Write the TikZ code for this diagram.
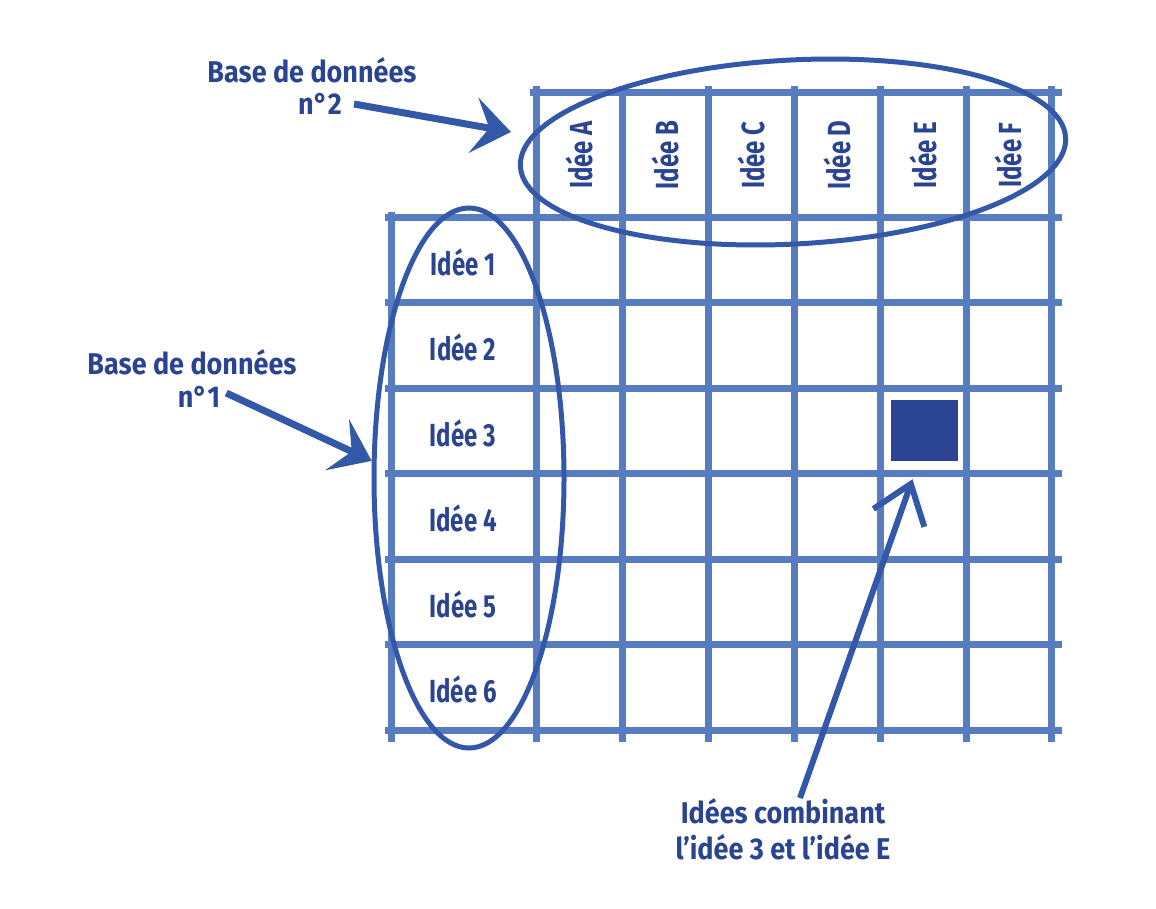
\documentclass[tikz,border=0pt]{standalone}
\usepackage{fontspec}
\newfontfamily\labelfont{Fira Sans}[FakeStretch=0.75]
\newfontfamily\notefont{Fira Sans}[FakeStretch=0.9]
\usetikzlibrary{shapes.geometric,arrows.meta}
\definecolor{inkBlue}{RGB}{42,68,145}
\definecolor{penBlue}{RGB}{52,88,168}
\definecolor{gridBlue}{RGB}{88,124,192}

\begin{document}
\begin{tikzpicture}
[x=1pt,y=-1pt,
  gridDecorate/.style={gridBlue,line width=7pt},%
  labelDecorate/.style={text=inkBlue,inner sep=0pt,font=\labelfont\fontsize{32}{34}\selectfont\bfseries},%
  noteDecorate/.style={text=inkBlue,inner sep=0pt,align=center,font=\notefont\fontsize{30}{36}\selectfont\bfseries},%
  ellipseDecorate/.style={shape=ellipse,draw=penBlue,line width=5pt,inner sep=0pt},%
  arrowDecorate/.style={-{Stealth[length=38pt,width=56pt,inset=16pt]},penBlue,line width=7pt},%
  thinArrowDecorate/.style={-{Straight Barb[length=36pt,width=54pt]},penBlue,line width=6pt}]
\useasboundingbox (0,0) rectangle (1156,908);
%% grid lines
\draw[gridDecorate] (530,92) -- (1062,92);
\foreach \y in {217,302,388,473,559,644,730}
{
  \draw[gridDecorate] (385,\y) -- (1062,\y);
}
\draw[gridDecorate] (391,212) -- (391,742);
\foreach \x in {536,622,708,794,880,966,1051}
{
  \draw[gridDecorate] (\x,86) -- (\x,742);
}
%% row and column labels
\foreach \nodename/\y in {1/262, 2/347, 3/433, 4/518, 5/604, 6/689}
{
  \node (r\nodename) at (463,\y) [labelDecorate] {Idée \nodename};
}
\foreach \nodename/\x in {A/579, B/665, C/751, D/837, E/923, F/1008}
{
  \node (c\nodename) at (\x,155) [labelDecorate,rotate=90] {Idée \nodename};
}
%% the two databases and the chosen cell
\node (db1) at (469,478) [ellipseDecorate,minimum width=190pt,minimum height=540pt] {};
\node (db2) at (793,152) [ellipseDecorate,minimum width=546pt,minimum height=184pt,rotate=3] {};
\node (hit) at (924.5,430.5) [fill=inkBlue,minimum width=67pt,minimum height=61pt] {};
%% notes
\node (title2) at (312,70) [noteDecorate] {Base de données};
\node (num2) at (320,104) [noteDecorate] {n°2};
\node (title1) at (192,362) [noteDecorate] {Base de données};
\node (num1) at (199,397) [noteDecorate] {n°1};
\node (note) at (783,829) [noteDecorate] {Idées combinant\\l’idée 3 et l’idée E};
\coordinate (tip2) at (511,132);
%% arrows
\draw[arrowDecorate] ([xshift=12pt]num2.east) -- (tip2);
\draw[arrowDecorate] ([xshift=6pt,yshift=4pt]num1.east) -- (db1.170);
\draw[thinArrowDecorate] ([xshift=17pt]note.north) -- ([xshift=-12pt,yshift=-18pt]hit.south);
\end{tikzpicture}
\end{document}
